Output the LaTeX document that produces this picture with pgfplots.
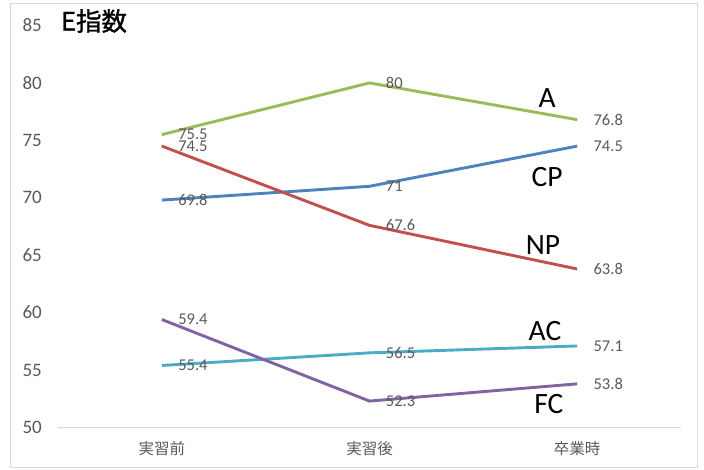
\documentclass[border=0pt]{standalone}
\usepackage{fontspec}
\usepackage{pgfplots}
\pgfplotsset{compat=1.18}
\setmainfont{Carlito}
\newfontfamily\jp{Noto Sans CJK JP}
\newfontfamily\jptitle[FakeBold=1.2]{Noto Sans CJK JP}

\definecolor{cA}{HTML}{9BBB59}
\definecolor{cCP}{HTML}{4F81BD}
\definecolor{cNP}{HTML}{C0504D}
\definecolor{cAC}{HTML}{4BACC6}
\definecolor{cFC}{HTML}{8064A2}
\definecolor{txt}{HTML}{595959}
\definecolor{framegray}{HTML}{D9D9D9}

\begin{document}
\begin{tikzpicture}[x=1pt,y=1pt]
\path[use as bounding box] (0,0) rectangle (704,470);
\draw[framegray, line width=1pt] (10,2.5) rectangle (697,466);
\begin{axis}[
  at={(58pt,42.5pt)}, anchor=south west,
  scale only axis, width=623pt, height=402pt,
  xmin=-0.5, xmax=2.5, ymin=50, ymax=85,
  xtick={0,1,2}, xticklabels={実習前,実習後,卒業時},
  ytick={50,55,...,85},
  /pgf/number format/assume math mode=true,
  major tick length=0pt,
  axis line style={draw=none},
  clip=false,
  yticklabel style={font=\fontsize{19}{19}\selectfont, text=txt, anchor=east, inner sep=0pt, xshift=-16pt},
  xticklabel style={font=\jp\fontsize{15.5}{16}\selectfont, text=txt, anchor=center, inner sep=0pt, yshift=-21pt},
  every axis plot/.append style={line width=2.9pt, no markers},
  nodes near coords,
  every node near coord/.append style={anchor=west, inner sep=0pt, xshift=15pt,
    font=\fontsize{16.5}{16.5}\selectfont, text=txt},
]
\draw[framegray, line width=1pt] (rel axis cs:0,0) -- (rel axis cs:1,0);

% A
\addplot[cA] coordinates {(0,75.5) (1,80) (2,76.8)};
% CP
\addplot[cCP] coordinates {(0,69.8) (1,71) (2,74.5)};
% NP
\addplot[cNP] coordinates {(0,74.5) (1,67.6) (2,63.8)};
% AC
\addplot[cAC] coordinates {(0,55.4) (1,56.5) (2,57.1)};
% FC
\addplot[cFC] coordinates {(0,59.4) (1,52.3) (2,53.8)};

% series names
\begin{scope}[every node/.style={font=\fontsize{29.5}{30}\selectfont, text=black, inner sep=0pt}]
\node at (axis cs:1.855,78.66) {A};
\node at (axis cs:1.855,71.84) {CP};
\node at (axis cs:1.835,65.89) {NP};
\node at (axis cs:1.845,58.42) {AC};
\node at (axis cs:1.864,52.0) {FC};
\end{scope}
\end{axis}
\node[font=\jptitle\fontsize{25.5}{26}\selectfont, text=black, inner sep=0pt] at (94,449) {E指数};
\end{tikzpicture}
\end{document}
